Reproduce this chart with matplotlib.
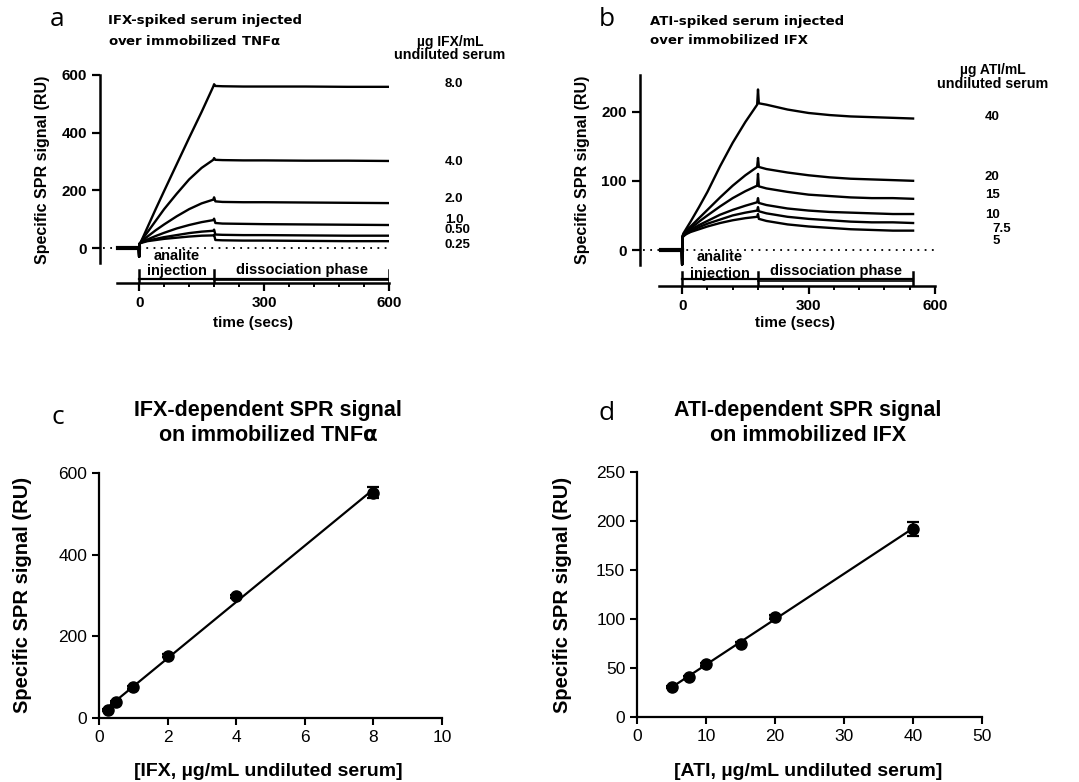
import numpy as np
import matplotlib
matplotlib.use("Agg")
import matplotlib.pyplot as plt

plt.rcParams['font.family'] = ['Liberation Sans', 'DejaVu Sans']

W, H = 1079, 782

# ---- panel a: IFX-spiked serum over TNFa (sensorgrams) ----
t_a = [-50, -1, 0, 1, 3, 10, 20, 40, 60, 90, 120, 150, 178, 180, 183, 200, 250, 300, 400, 500, 600]
ifx_conc = ['8.0', '4.0', '2.0', '1.0', '0.50', '0.25']
ifx_traces = [
    [0, 0, -30, 15, 18, 40, 72, 136, 198, 290, 382, 472, 560, 568, 562, 561, 560, 560, 560, 559, 559],
    [0, 0, -30, 15, 18, 35, 55, 95, 135, 188, 238, 278, 306, 312, 306, 305, 304, 304, 303, 303, 302],
    [0, 0, -30, 15, 18, 28, 40, 62, 82, 110, 135, 155, 168, 176, 162, 160, 159, 159, 158, 157, 156],
    [0, 0, -30, 15, 18, 24, 30, 42, 53, 68, 80, 90, 97, 102, 87, 85, 84, 83, 82, 81, 80],
    [0, 0, -30, 15, 18, 22, 26, 32, 38, 45, 52, 57, 60, 64, 47, 46, 45, 45, 44, 43, 43],
    [0, 0, -30, 15, 17, 20, 24, 28, 32, 36, 40, 43, 44, 46, 28, 27, 26, 26, 25, 24, 24],
]
ifx_label_y = [569, 298, 170, 97, 62, 10]

# ---- panel b: ATI-spiked serum over IFX (sensorgrams) ----
t_b = [-50, -1, 0, 1, 3, 10, 20, 40, 60, 90, 120, 150, 178, 180, 182, 200, 250, 300, 350, 400, 450, 500, 548]
ati_conc = ['40', '20', '15', '10', '7.5', '5']
ati_traces = [
    [0, 0, -21, 20, 24, 31, 41, 62, 84, 121, 155, 185, 210, 232, 212, 210, 203, 198, 195, 193, 192, 191, 190],
    [0, 0, -21, 20, 23, 28, 34, 46, 58, 76, 93, 108, 120, 133, 120, 117, 112, 108, 105, 103, 102, 101, 100],
    [0, 0, -21, 19, 22, 26, 31, 41, 50, 63, 75, 85, 93, 110, 92, 89, 84, 80, 78, 76, 75, 75, 74],
    [0, 0, -21, 19, 21, 25, 29, 36, 42, 51, 58, 64, 69, 75, 68, 65, 60, 57, 55, 54, 53, 52, 52],
    [0, 0, -21, 18, 20, 24, 27, 33, 38, 44, 50, 54, 57, 62, 56, 53, 48, 45, 43, 41, 40, 40, 39],
    [0, 0, -21, 18, 20, 23, 26, 30, 34, 39, 43, 46, 48, 52, 45, 42, 37, 34, 32, 30, 29, 28, 28],
]
ati_label_y = [192, 106, 80, 51, 30, 13]
ati_label_x = [718, 718, 718, 718, 737, 737]

# ---- panel c / d: dose response ----
ifx_x = [0.25, 0.5, 1, 2, 4, 8]
ifx_y = [19, 39, 75, 153, 298, 552]
ifx_err = [2, 2, 3, 3, 4, 14]

ati_x = [5, 7.5, 10, 15, 20, 40]
ati_y = [30.5, 40.7, 54, 75, 102, 192]
ati_err = [1, 1.5, 1.5, 2, 2, 7]


def px_axes(fig, x0, x1, y0, y1):
    return fig.add_axes([x0 / W, 1 - y1 / H, (x1 - x0) / W, (y1 - y0) / H])


def ftext(fig, x, y, s, **kw):
    fig.text(x / W, 1 - y / H, s, **kw)


fig = plt.figure(figsize=(W / 100, H / 100), dpi=100)

bold = dict(fontweight='bold')


def sensorgram(ax, t, traces, xlim, ylim, ybounds, xbounds, yticks, tend, br_y, br_top, lab_y):
    for tr in traces:
        ax.plot(t, tr, color='black', lw=1.7, solid_joinstyle='round')
    ax.plot([t[0], -1], [0, 0], color='black', lw=3)
    ax.plot([xlim[0] + 8, 600], [0, 0], color='black', lw=1.3, ls=(0, (1, 3)))
    ax.set_xlim(*xlim)
    ax.set_ylim(*ylim)
    for s in ['top', 'right']:
        ax.spines[s].set_visible(False)
    ax.spines['left'].set_bounds(*ybounds)
    ax.spines['bottom'].set_bounds(*xbounds)
    ax.spines['left'].set_linewidth(1.8)
    ax.spines['bottom'].set_linewidth(1.8)
    ax.set_yticks(yticks)
    ax.set_xticks([0, 300, 600])
    ax.set_xticks(np.arange(60, 600, 60), minor=True)
    ax.tick_params(axis='both', which='major', direction='out', length=6, width=1.6, labelsize=11)
    ax.tick_params(axis='x', which='minor', direction='out', length=3, width=1.4)
    for lab in ax.get_xticklabels() + ax.get_yticklabels():
        lab.set_fontweight('bold')
    # injection / dissociation bracket
    ax.plot([0, tend], [br_y, br_y], color='black', lw=1.6)
    ax.plot([180, tend], [br_y - 3, br_y - 3], color='black', lw=1.2)
    for xv in [0, 180, tend]:
        ax.plot([xv, xv], [br_top, ylim[0]], color='black', lw=1.8)
    ax.text(90, lab_y[0], 'analite', ha='center', va='center', fontsize=10.5, **bold)
    ax.text(90, lab_y[1], 'injection', ha='center', va='center', fontsize=10.5, **bold)
    ax.text((180 + tend) / 2, lab_y[2], 'dissociation phase', ha='center', va='center',
            fontsize=10.5, **bold)


# panel a
ax_a = px_axes(fig, 100, 389, 75, 283)
sensorgram(ax_a, t_a, ifx_traces, (-94, 600), (-121, 600), (-50, 600), (-53, 600),
           [0, 200, 400, 600], 600, -107, -76, [-27, -80, -75])
for c, yv in zip(ifx_conc, ifx_label_y):
    ax_a.text(734, yv, c, ha='left', va='center', fontsize=9.5, clip_on=False, **bold)
ftext(fig, 450, 42, 'µg IFX/mL', ha='center', va='center', fontsize=10, **bold)
ftext(fig, 450, 55, 'undiluted serum', ha='center', va='center', fontsize=10.3, **bold)
ftext(fig, 43, 170, 'Specific SPR signal (RU)', rotation=90, ha='center', va='center',
      fontsize=11.5, **bold)
ftext(fig, 253, 323, 'time (secs)', ha='center', va='center', fontsize=11, **bold)
ftext(fig, 108, 31, 'IFX-spiked serum injected\nover immobilized TNF$\\mathbf{\\alpha}$', ha='left',
      va='center', fontsize=9.5, linespacing=1.6, family='DejaVu Sans', **bold)
ftext(fig, 57, 20, 'a', ha='center', va='center', fontsize=19, family='Open Sans')

# panel b
ax_b = px_axes(fig, 640, 935, 77, 286)
sensorgram(ax_b, t_b, ati_traces, (-100, 600), (-52, 250), (-22, 253), (-55, 600),
           [0, 100, 200], 548, -42, -32, [-10, -34, -30])
for c, xv, yv in zip(ati_conc, ati_label_x, ati_label_y):
    ax_b.text(xv, yv, c, ha='left', va='center', fontsize=9.5, clip_on=False, **bold)
ftext(fig, 993, 70, 'µg ATI/mL', ha='center', va='center', fontsize=10, **bold)
ftext(fig, 993, 84, 'undiluted serum', ha='center', va='center', fontsize=10.3, **bold)
ftext(fig, 583, 170, 'Specific SPR signal (RU)', rotation=90, ha='center', va='center',
      fontsize=11.5, **bold)
ftext(fig, 795, 323, 'time (secs)', ha='center', va='center', fontsize=11, **bold)
ftext(fig, 650, 31, 'ATI-spiked serum injected\nover immobilized IFX', ha='left',
      va='center', fontsize=9.5, linespacing=1.6, family='DejaVu Sans', **bold)
ftext(fig, 607, 20, 'b', ha='center', va='center', fontsize=19, family='Open Sans')


def dose_panel(ax, x, y, err, xlim, ylim, xticks, yticks):
    k, b = np.polyfit(x, y, 1)
    xs = np.array([x[0], x[-1]])
    ax.plot(xs, k * xs + b, color='black', lw=1.6)
    ax.errorbar(x, y, yerr=err, fmt='o', color='black', ms=8, capsize=4, elinewidth=1.6,
                capthick=1.6)
    ax.set_xlim(*xlim)
    ax.set_ylim(*ylim)
    for s in ['top', 'right']:
        ax.spines[s].set_visible(False)
    ax.spines['left'].set_linewidth(1.6)
    ax.spines['bottom'].set_linewidth(1.6)
    ax.set_xticks(xticks)
    ax.set_yticks(yticks)
    ax.tick_params(direction='out', length=5, width=1.5, labelsize=12.5)


# panel c
ax_c = px_axes(fig, 99, 442, 473, 718)
dose_panel(ax_c, ifx_x, ifx_y, ifx_err, (0, 10), (0, 600), [0, 2, 4, 6, 8, 10], [0, 200, 400, 600])
ftext(fig, 268, 423, 'IFX-dependent SPR signal\non immobilized TNF$\\mathbf{\\alpha}$', ha='center',
      va='center', fontsize=15.5, linespacing=1.2, **bold)
ftext(fig, 23, 595, 'Specific SPR signal (RU)', rotation=90, ha='center', va='center',
      fontsize=14.5, **bold)
ftext(fig, 268, 772, '[IFX, µg/mL undiluted serum]', ha='center', va='center', fontsize=14, **bold)
ftext(fig, 58, 417, 'c', ha='center', va='center', fontsize=19, family='Open Sans')

# panel d
ax_d = px_axes(fig, 637, 982, 472, 717)
dose_panel(ax_d, ati_x, ati_y, ati_err, (0, 50), (0, 250), [0, 10, 20, 30, 40, 50],
           [0, 50, 100, 150, 200, 250])
ftext(fig, 808, 423, 'ATI-dependent SPR signal\non immobilized IFX', ha='center',
      va='center', fontsize=15.5, linespacing=1.2, **bold)
ftext(fig, 563, 595, 'Specific SPR signal (RU)', rotation=90, ha='center', va='center',
      fontsize=14.5, **bold)
ftext(fig, 808, 772, '[ATI, µg/mL undiluted serum]', ha='center', va='center', fontsize=14, **bold)
ftext(fig, 607, 414, 'd', ha='center', va='center', fontsize=19, family='Open Sans')

fig.savefig('out.png', dpi=100)
